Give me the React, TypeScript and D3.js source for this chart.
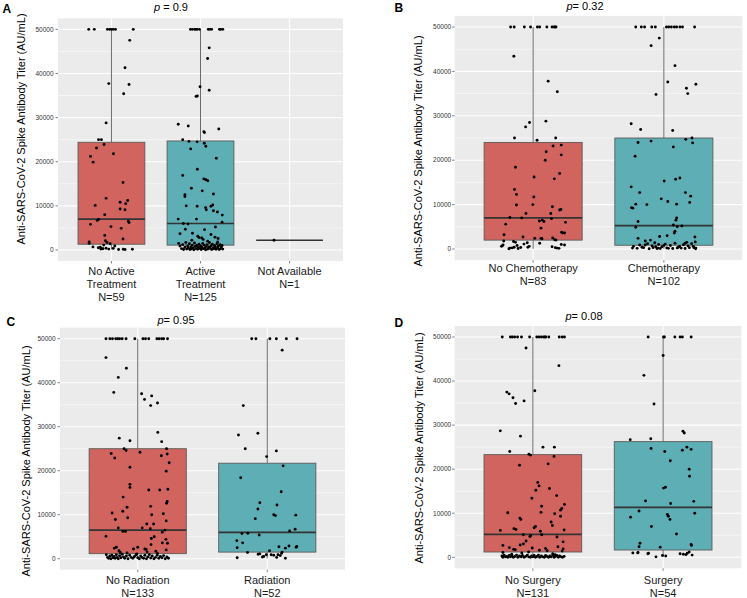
import React from "react";
import * as d3 from "d3";

const W = 747;
const H = 598;

// ---------- DATA ----------
// Points: [jitter (−1..1 of jitter half-width), titer AU/mL]
const catsA = [["No Active", "Treatment", "N=59"], ["Active", "Treatment", "N=125"], ["Not Available", "N=1"]];
const ptsA1: [number, number][] = [
  [-1.02, 50000], [-0.77, 50000], [-0.18, 50000], [-0.08, 50000], [0, 50000], [0.08, 50000], [0.18, 50000], [0.98, 50000],
  [0.82, 47500], [0.61, 41300], [-0.12, 37700], [0.79, 37500], [0.55, 35400], [-0.24, 28800], [-0.58, 25000], [-0.45, 25000],
  [-0.33, 23900], [-0.67, 23100], [0.09, 21800], [-0.94, 21200], [-0.82, 19900], [0.52, 15300], [-0.24, 11700], [0.73, 11200],
  [0.39, 10800], [0.64, 10500], [-0.73, 10100], [0.39, 9300], [0.61, 9100], [-0.3, 8000], [-0.58, 6900], [-0.64, 6700],
  [0.76, 6500], [0.79, 6200], [-0.94, 5800], [-0.02, 5300], [0.44, 4900], [-0.3, 3300], [0.52, 2500], [-0.27, 2100],
  [-1.0, 1800], [-1.0, 1500], [-0.2, 1700], [-0.06, 1400], [-0.35, 1100], [0.15, 900], [-0.83, 700], [-0.5, 600],
  [-0.59, 500], [-0.24, 400], [-0.38, 300], [-0.12, 200], [0.32, 100], [0.53, 150], [0.61, 100], [0.94, 150],
  [-0.41, 250], [-0.48, 200], [0.08, 350],
];
const ptsA2: [number, number][] = [
  [-0.45, 50000], [-0.36, 50000], [-0.26, 50000], [-0.15, 50000], [-0.05, 50000], [0.35, 50000], [0.42, 50000], [0.5, 50000],
  [0.85, 50000], [0.91, 50000], [1.0, 50000], [-0.21, 50000],
  [0.39, 45800], [0.32, 43400], [-0.02, 37000], [0.39, 36200], [-0.14, 34900], [-0.2, 34800], [-1.0, 28500], [-0.55, 28100],
  [0.82, 27400], [0.15, 26800], [0.18, 26600], [-0.8, 25000], [-0.52, 24600], [-0.15, 24500], [0.17, 24200], [0.24, 23500],
  [-0.44, 22900], [0.71, 20800], [-0.14, 18300], [-0.8, 16900], [0.15, 16100], [0.24, 15900], [0.33, 15700], [-0.41, 14000],
  [0.08, 13400], [0.58, 12700], [-0.7, 12500], [-0.7, 12100], [0.55, 10200], [-0.64, 10000], [-0.15, 9900], [0.23, 9600],
  [0.47, 9900], [0.26, 9100], [0.58, 8900], [0.76, 8600], [0.98, 7900], [-1.0, 7000], [-0.18, 7000], [0.97, 6300],
  [-0.77, 6000], [-0.56, 5900], [0.67, 5200], [-0.68, 4700], [0.18, 4600], [-0.92, 3700], [-0.36, 3800], [0.47, 3500],
  [-0.12, 3100], [-0.06, 2800], [0.06, 2700], [0.79, 2600], [0.12, 2400], [0.65, 2900], [-0.39, 2200], [0.32, 2000], [0.77, 1800],
  [-0.98, 1500], [-0.92, 900], [-0.85, 300], [-0.8, 1200], [-0.76, 100], [-0.7, 600], [-0.66, 1700], [-0.62, 200],
  [-0.58, 900], [-0.55, 400], [-0.5, 1400], [-0.47, 100], [-0.44, 700], [-0.4, 250], [-0.37, 1100], [-0.33, 500],
  [-0.3, 50], [-0.27, 1600], [-0.24, 800], [-0.2, 300], [-0.17, 1000], [-0.13, 150], [-0.1, 600], [-0.07, 1300],
  [-0.03, 400], [0, 900], [0.03, 100], [0.06, 700], [0.1, 1500], [0.13, 300], [0.16, 1100], [0.2, 500],
  [0.23, 50], [0.26, 800], [0.3, 1200], [0.33, 200], [0.37, 600], [0.4, 1700], [0.43, 350], [0.47, 900],
  [0.5, 100], [0.53, 1300], [0.57, 500], [0.6, 250], [0.63, 1000], [0.67, 700], [0.7, 150], [0.74, 1400],
  [0.77, 450], [0.8, 850], [0.84, 100], [0.87, 1200], [0.9, 300], [0.94, 650], [0.97, 1000], [1.0, 200],
];
const ptsA3: [number, number][] = [[-0.7, 2200]];
const q1A = [1300, 1100, 2200];
const medA = [7000, 6000, 2200];
const q3A = [24400, 24700, 2200];
const loA = [100, 50, 2200];
const hiA = [50000, 50000, 2200];

const catsB = [["No Chemotherapy", "N=83"], ["Chemotherapy", "N=102"]];
const ptsB1: [number, number][] = [
  [-0.69, 50000], [-0.58, 50000], [-0.27, 50000], [-0.08, 50000], [0.13, 50000], [0.2, 50000], [0.42, 50000], [0.58, 50000],
  [0.64, 50000], [0.7, 50000], [0.67, 50000],
  [-0.59, 43400], [0.46, 37800], [0.74, 35400], [0.39, 28800], [-0.11, 28500], [-0.23, 27500], [-0.57, 25000], [0.12, 24500],
  [0.69, 25000], [0.86, 23400], [0.61, 23200], [0.4, 21900], [0.86, 21200], [0.37, 20000], [-0.54, 18400], [0.81, 17000],
  [0.03, 16200], [0.65, 15800], [-0.57, 13400], [-0.51, 12300], [0.02, 11700], [-0.51, 9900], [-0.01, 10000], [0.59, 9500],
  [0.85, 8900], [0.81, 8800], [-0.22, 8000], [0.54, 8000], [-0.71, 7100], [-0.35, 7000], [0.28, 6500], [0.19, 6300],
  [0.99, 6000], [0.33, 6200], [0.56, 6800], [-0.84, 5600], [0.24, 4700], [0.87, 3800], [0.9, 3600], [0.96, 3600],
  [-0.89, 3200], [-0.31, 2700], [0.6, 2500], [0.05, 2400], [0.27, 2300], [0.24, 2400], [0.66, 2100], [-0.6, 1700],
  [-0.54, 1500], [0.2, 1300], [-0.18, 1400], [-0.28, 1100], [0.86, 1000], [-0.92, 900], [-0.49, 800], [-0.97, 600],
  [0.58, 500], [-0.58, 400], [-0.71, 200], [0.68, 300], [-0.46, 100], [0.73, 200], [0.79, 150], [-0.95, 700],
  [-0.16, 400], [-0.74, 50], [-0.64, 250], [-0.38, 350], [-0.12, 600], [-0.9, 1800], [0.7, 2000], [0.96, 900],
];
const ptsB2: [number, number][] = [
  [-0.86, 50000], [-0.69, 50000], [-0.59, 50000], [-0.37, 50000], [-0.26, 50000], [0.08, 50000], [0.15, 50000], [0.23, 50000],
  [0.32, 50000], [0.39, 50000], [0.49, 50000], [0.57, 50000], [0.94, 50000],
  [-0.14, 47500], [-0.39, 45800], [0.34, 41300], [0.12, 37600], [0.98, 37100], [0.69, 36200], [0.73, 35000], [-0.24, 34800],
  [-1.0, 28200], [-0.71, 26900], [0.27, 26700], [-0.39, 24300], [-0.79, 24000], [0.67, 24700], [0.86, 25000], [0.88, 23900],
  [0.29, 23000], [-0.88, 20900], [0.49, 16000], [0.36, 15700], [0.01, 15300], [-1.0, 14000], [-0.74, 12700], [0.66, 12700],
  [0.82, 11900], [-0.08, 11300], [0.12, 10700], [0.79, 10500], [-0.86, 10100], [-0.52, 10000], [0.39, 10100], [-0.99, 9300],
  [-0.95, 9200], [0.39, 7000], [0.37, 6500], [-0.79, 6200], [0.29, 5400], [0.55, 5200], [0.41, 5000], [-0.86, 4900],
  [0.34, 4000], [0.32, 3600], [0.1, 3000], [-0.13, 2800], [0.95, 2700], [-0.79, 2400], [-0.41, 2000], [-0.57, 1800],
  [0.96, 1600], [0.7, 1500], [0.65, 1300], [-0.16, 1000], [0, 800], [-0.57, 900], [0.48, 600], [-0.67, 400],
  [-0.33, 300], [-0.96, 200], [-0.21, 100], [-0.11, 100], [0.14, 150], [0.41, 250], [0.65, 100], [0.92, 300],
  [0.98, 200], [-0.25, 500], [0.74, 700],
  [-0.93, 600], [-0.82, 150], [-0.74, 900], [-0.62, 300], [-0.5, 1200], [-0.45, 50], [-0.36, 700], [-0.28, 1400],
  [-0.18, 200], [-0.06, 500], [0.04, 1100], [0.09, 250], [0.2, 800], [0.27, 100], [0.34, 1300], [0.44, 400],
  [0.53, 200], [0.6, 950], [0.78, 300], [0.85, 1200], [0.9, 600], [0.97, 50],
];
const q1B = [2000, 850];
const medB = [7000, 5250];
const q3B = [24000, 25000];
const loB = [50, 50];
const hiB = [50000, 50000];

const catsC = [["No Radiation", "N=133"], ["Radiation", "N=52"]];
const ptsC1: [number, number][] = [
  [-0.98, 50000], [-0.86, 50000], [-0.78, 50000], [-0.68, 50000], [-0.62, 50000], [-0.56, 50000], [-0.48, 50000], [-0.36, 50000],
  [-0.09, 50000], [0.16, 50000], [0.24, 50000], [0.34, 50000], [0.59, 50000], [0.66, 50000], [0.74, 50000], [0.8, 50000], [0.92, 50000],
  [-0.98, 45700], [-0.35, 43300], [-0.6, 41200], [-0.74, 37800], [0.12, 37500], [0.43, 37000], [0.21, 36200], [0.61, 35400],
  [0.4, 34800], [0.62, 28700], [-0.57, 27400], [-0.24, 26800], [0.74, 26600], [-0.42, 25000], [-0.36, 24600], [0.89, 25000],
  [0.07, 24200], [-0.82, 23900], [0.73, 23400], [-0.71, 22900], [0.91, 23800], [0.97, 21800], [-0.24, 20800], [0.88, 19900],
  [-0.24, 16900], [-0.24, 16200], [0.34, 15600], [0.68, 15600], [0.93, 15800], [-0.45, 14000], [0.91, 13000], [0.89, 12600],
  [0.4, 11900], [-0.33, 11700], [-0.46, 10800], [-0.79, 10400], [0.43, 10000], [0.79, 10200], [-0.31, 9300], [-0.69, 8900],
  [0.88, 8600], [0.28, 7900], [0.49, 7900], [-0.6, 7000], [0.14, 7000], [0.39, 6800], [0.84, 6500], [-0.46, 6200],
  [-0.38, 6200], [0.76, 6000], [-0.98, 5100], [0.51, 5000], [0.42, 4600], [0.87, 4400], [0.76, 3600], [0.92, 3500],
  [0.41, 3200], [-0.66, 2600], [0, 2600], [-0.72, 2400], [-0.13, 2200], [0.26, 2100], [0.22, 2200], [0.88, 2000],
  [-0.58, 1800], [0.56, 1700], [0.29, 1500], [-0.54, 1400], [-0.33, 1300], [0.61, 1200], [-0.03, 1100],
  [-0.97, 900], [-0.93, 300], [-0.9, 100], [-0.86, 600], [-0.83, 0], [-0.8, 800], [-0.76, 200], [-0.73, 500],
  [-0.7, 100], [-0.66, 900], [-0.63, 300], [-0.6, 0], [-0.56, 700], [-0.52, 200], [-0.48, 1000], [-0.44, 400],
  [-0.4, 100], [-0.35, 600], [-0.3, 0], [-0.25, 800], [-0.2, 300], [-0.15, 100], [-0.1, 500], [-0.05, 900],
  [0, 200], [0.05, 0], [0.09, 600], [0.13, 300], [0.18, 100], [0.22, 800], [0.27, 0], [0.31, 400],
  [0.36, 900], [0.4, 150], [0.45, 600], [0.5, 0], [0.55, 300], [0.6, 800], [0.65, 100], [0.7, 500],
  [0.75, 200], [0.8, 700], [0.85, 0], [0.9, 400], [0.95, 100],
];
const ptsC2: [number, number][] = [
  [-0.48, 50000], [-0.35, 50000], [0.08, 50000], [0.28, 50000], [0.59, 50000], [0.92, 50000],
  [0.46, 47400], [-0.74, 34800], [-0.29, 28500], [-0.89, 28100], [-0.68, 25000], [0.28, 24500], [-0.02, 23200], [0.49, 21100],
  [-0.82, 18400], [0.43, 15200], [-0.23, 12700], [0.3, 12200], [-0.29, 11300], [0.2, 10000], [0.25, 9800], [0.88, 9900],
  [-0.37, 9100], [0.86, 6700], [0.69, 6300], [-0.78, 5700], [-0.6, 5800], [-0.25, 5400], [-0.94, 4100], [-0.76, 3600],
  [0.91, 2800], [0.89, 2600], [0.67, 2900], [-0.93, 2500], [0.56, 2400], [0.36, 2700], [0.07, 1800], [0.46, 1500],
  [-0.61, 1400], [0.44, 1200], [-0.28, 1000], [-0.23, 1100], [-0.03, 900], [0.12, 900], [0.2, 800], [0.33, 900],
  [0.4, 700], [-0.11, 500], [-0.15, 400], [0.29, 300], [-0.93, 200], [0.56, 100],
];
const q1C = [1150, 1500];
const medC = [6500, 6000];
const q3C = [25000, 21700];
const loC = [0, 100];
const hiC = [50000, 50000];

const catsD = [["No Surgery", "N=131"], ["Surgery", "N=54"]];
const ptsD1: [number, number][] = [
  [-0.94, 50000], [-0.69, 50000], [-0.63, 50000], [-0.56, 50000], [-0.47, 50000], [-0.35, 50000], [-0.1, 50000], [0.12, 50000],
  [0.19, 50000], [0.26, 50000], [0.33, 50000], [0.4, 50000], [0.49, 50000], [0.81, 50000], [0.9, 50000], [0.97, 50000], [0.37, 50000],
  [-0.21, 47500], [0.8, 43500], [0.06, 37800], [-0.8, 37500], [-0.73, 37100], [-0.61, 36200], [-0.27, 35500], [-0.53, 34900],
  [-1.0, 28700], [-0.38, 27500], [0.31, 25000], [0.66, 25000], [-0.71, 24000], [-0.12, 23400], [-0.07, 23200], [0.65, 22900],
  [0.47, 21200], [-0.41, 20900], [0.15, 17000], [0.19, 16200], [0.51, 15600], [0.09, 15200], [0.73, 14000], [-0.03, 13400],
  [0.97, 12000], [0.27, 11600], [0.89, 11100], [0.85, 10700], [-0.77, 10100], [0.25, 10200], [0.67, 9900], [0.85, 9300],
  [-0.4, 8900], [-0.37, 8600], [0.56, 8000], [0.6, 7200], [0.08, 7000], [0.04, 6700], [-0.58, 6500], [-0.52, 6300],
  [-1.0, 6100], [0.96, 6200], [0.23, 5900], [-0.29, 5100], [0.27, 5100], [-0.07, 4900], [0.74, 4600], [-0.09, 4700],
  [-0.21, 3700], [0.93, 3500], [-0.29, 3000], [-0.39, 2800], [-0.92, 2700], [0.77, 2400], [-0.72, 2200], [-0.02, 2100],
  [0.39, 2000], [0.93, 1900], [-0.59, 1800], [-0.54, 1700], [0.2, 1600], [0.44, 1500], [0.9, 1400], [-0.13, 1200],
  [-0.34, 1000], [-0.92, 1100], [0.61, 800], [-0.65, 700], [0.68, 600],
  [-0.95, 300], [-0.92, 0], [-0.88, 500], [-0.85, 100], [-0.81, 200], [-0.77, 0], [-0.73, 400], [-0.69, 100],
  [-0.64, 300], [-0.6, 0], [-0.55, 200], [-0.5, 500], [-0.46, 0], [-0.41, 300], [-0.36, 100], [-0.32, 400],
  [-0.27, 0], [-0.22, 200], [-0.17, 500], [-0.13, 100], [-0.08, 0], [-0.04, 300], [0, 100], [0.04, 400],
  [0.08, 0], [0.13, 200], [0.17, 500], [0.21, 0], [0.26, 300], [0.3, 100], [0.35, 0], [0.39, 400],
  [0.43, 200], [0.48, 0], [0.52, 300], [0.56, 100], [0.61, 500], [0.65, 0], [0.69, 200], [0.74, 400],
  [0.78, 0], [0.82, 300], [0.87, 100], [0.91, 0], [0.96, 200],
];
const ptsD2: [number, number][] = [
  [-0.46, 50000], [0.04, 50000], [0.01, 50000], [0.36, 50000], [0.52, 50000], [0.59, 50000], [0.86, 50000],
  [0, 45800], [-0.59, 41300], [-0.28, 34800], [0.61, 28600], [0.65, 28200], [-1.01, 26700], [-0.38, 26900], [0.73, 25000],
  [-0.37, 24700], [0.86, 24500], [0.59, 24300], [0.05, 24000], [0.22, 21900], [0.8, 20000], [0.81, 18400], [0.07, 15900],
  [0.01, 15700], [-0.54, 12800], [0.94, 12700], [0.23, 12200], [-0.74, 10500], [0.97, 10000], [0.13, 9700], [0.16, 9300],
  [-1.0, 9100], [0.21, 8600], [-0.36, 7000], [0.41, 5300], [-0.71, 3200], [0.86, 2900], [0.87, 2700], [-0.74, 2400],
  [-0.09, 2300], [0.8, 1200], [-0.93, 1000], [-0.77, 1100], [-0.45, 900], [-0.47, 800], [0.52, 800], [0.62, 700],
  [0.7, 600], [0.74, 900], [0.89, 500], [-0.78, 1000], [-0.02, 400], [-0.22, 100], [0.08, 300],
];
const q1D = [1200, 1650];
const medD = [5200, 11350];
const q3D = [23300, 26250];
const loD = [0, 100];
const hiD = [50000, 50000];

const yTicks = [0, 10000, 20000, 30000, 40000, 50000];
const yMinor = [5000, 15000, 25000, 35000, 45000];
const yTitle = "Anti-SARS-CoV-2 Spike Antibody Titer (AU/mL)";

// ---------- STYLE / LAYOUT ----------
const FILLS = ["#D1645E", "#5EAFB5", "#D1645E"];
const FONT = "'Liberation Sans', Arial, Helvetica, sans-serif";

type PanelCfg = {
  letter: string; pText: string; cats: string[][]; pts: [number, number][][];
  q1: number[]; med: number[]; q3: number[]; lo: number[]; hi: number[];
  px0: number; px1: number; py0: number; py1: number;
  letterX: number; letterY: number; titleX: number; titleY: number;
  yTitleX: number; yTitleY: number; xLabY: number; tickGap: number;
};

const panels: PanelCfg[] = [
  { letter: "A", pText: " = 0.9", cats: catsA, pts: [ptsA1, ptsA2, ptsA3], q1: q1A, med: medA, q3: q3A, lo: loA, hi: hiA,
    px0: 58, px1: 343, py0: 18.3, py1: 261, letterX: 2.5, letterY: 12.5, titleX: 171, titleY: 10.5,
    yTitleX: 21.5, yTitleY: 129, xLabY: 274.6, tickGap: 4.5 },
  { letter: "B", pText: "= 0.32", cats: catsB, pts: [ptsB1, ptsB2], q1: q1B, med: medB, q3: q3B, lo: loB, hi: hiB,
    px0: 454.7, px1: 742.3, py0: 15.9, py1: 260.1, letterX: 394.5, letterY: 12, titleX: 585, titleY: 10,
    yTitleX: 418, yTitleY: 151, xLabY: 272, tickGap: 3.5 },
  { letter: "C", pText: "= 0.95", cats: catsC, pts: [ptsC1, ptsC2], q1: q1C, med: medC, q3: q3C, lo: loC, hi: hiC,
    px0: 60, px1: 345, py0: 327.7, py1: 569.7, letterX: 6.5, letterY: 326, titleX: 176, titleY: 323.5,
    yTitleX: 26, yTitleY: 461, xLabY: 583.6, tickGap: 4.5 },
  { letter: "D", pText: "= 0.08", cats: catsD, pts: [ptsD1, ptsD2], q1: q1D, med: medD, q3: q3D, lo: loD, hi: hiD,
    px0: 454.7, px1: 741.3, py0: 326, py1: 568.3, letterX: 394.5, letterY: 327, titleX: 584, titleY: 319.5,
    yTitleX: 419.5, yTitleY: 448, xLabY: 583.6, tickGap: 3.5 },
];

function Panel({ c }: { c: PanelCfg }) {
  const y = d3.scaleLinear().domain([-2500, 52500]).range([c.py1, c.py0]);
  const keys = c.cats.map((_, i) => String(i));
  const x = d3.scalePoint<string>().domain(keys).range([c.px0, c.px1]).padding(0.6);
  const step = x.step();
  const boxW = step * 0.75;
  const jit = step * 0.25;
  return (
    <g>
      <rect x={c.px0} y={c.py0} width={c.px1 - c.px0} height={c.py1 - c.py0} fill="#EBEBEB" />
      {yMinor.map((t) => (
        <line key={"mn" + t} x1={c.px0} x2={c.px1} y1={y(t)} y2={y(t)} stroke="#fff" strokeWidth={0.5} />
      ))}
      {yTicks.map((t) => (
        <line key={"mj" + t} x1={c.px0} x2={c.px1} y1={y(t)} y2={y(t)} stroke="#fff" strokeWidth={1.1} />
      ))}
      {keys.map((k) => (
        <line key={"vx" + k} x1={x(k)} x2={x(k)} y1={c.py0} y2={c.py1} stroke="#fff" strokeWidth={1.1} />
      ))}
      {keys.map((k, i) => {
        const cx = x(k) as number;
        return (
          <g key={"box" + k}>
            <line x1={cx} x2={cx} y1={y(c.q3[i])} y2={y(c.hi[i])} stroke="#5a5a5a" strokeWidth={0.9} />
            <line x1={cx} x2={cx} y1={y(c.q1[i])} y2={y(c.lo[i])} stroke="#5a5a5a" strokeWidth={0.9} />
            {c.q3[i] > c.q1[i] && (
              <rect x={cx - boxW / 2} y={y(c.q3[i])} width={boxW} height={y(c.q1[i]) - y(c.q3[i])}
                fill={FILLS[i]} stroke="#5a5a5a" strokeWidth={0.9} />
            )}
            <line x1={cx - boxW / 2} x2={cx + boxW / 2} y1={y(c.med[i])} y2={y(c.med[i])} stroke="#333" strokeWidth={1.7} />
          </g>
        );
      })}
      {c.pts.map((grp, i) =>
        grp.map((p, j) => (
          <circle key={"p" + i + "_" + j} cx={(x(keys[i]) as number) + p[0] * jit} cy={y(p[1])} r={1.45} fill="#000" />
        ))
      )}
      {yTicks.map((t) => (
        <g key={"yt" + t}>
          <line x1={c.px0 - 2.5} x2={c.px0} y1={y(t)} y2={y(t)} stroke="#333" strokeWidth={0.6} />
          <text x={c.px0 - c.tickGap} y={y(t)} dy="0.35em" textAnchor="end" fontSize={6.5} fill="#333" fontFamily={FONT}>
            {t}
          </text>
        </g>
      ))}
      {keys.map((k, i) => (
        <g key={"xl" + k}>
          <line x1={x(k)} x2={x(k)} y1={c.py1} y2={c.py1 + 2.5} stroke="#333" strokeWidth={0.6} />
          <text x={x(k)} y={c.xLabY} textAnchor="middle" fontSize={11} fill="#1a1a1a" fontFamily={FONT}>
            {c.cats[i].map((l, li) => (
              <tspan key={li} x={x(k)} dy={li === 0 ? 0 : 13.3}>{l}</tspan>
            ))}
          </text>
        </g>
      ))}
      <text transform={`translate(${c.yTitleX},${c.yTitleY}) rotate(-90)`} textAnchor="middle" dy="0.35em"
        fontSize={11} fill="#000" fontFamily={FONT}>{yTitle}</text>
      <text x={c.titleX} y={c.titleY} textAnchor="middle" fontSize={11} fill="#000" fontFamily={FONT}>
        <tspan fontStyle="italic">p</tspan>{c.pText}
      </text>
      <text x={c.letterX} y={c.letterY} fontSize={12} fontWeight="bold" fill="#000" fontFamily={FONT}>{c.letter}</text>
    </g>
  );
}

export default function App() {
  return (
    <svg width={W} height={H} viewBox={`0 0 ${W} ${H}`}
      style={{ position: "absolute", left: 0, top: 0, background: "#fff" }}>
      <rect width={W} height={H} fill="#fff" />
      {panels.map((c) => (
        <Panel key={c.letter} c={c} />
      ))}
    </svg>
  );
}
